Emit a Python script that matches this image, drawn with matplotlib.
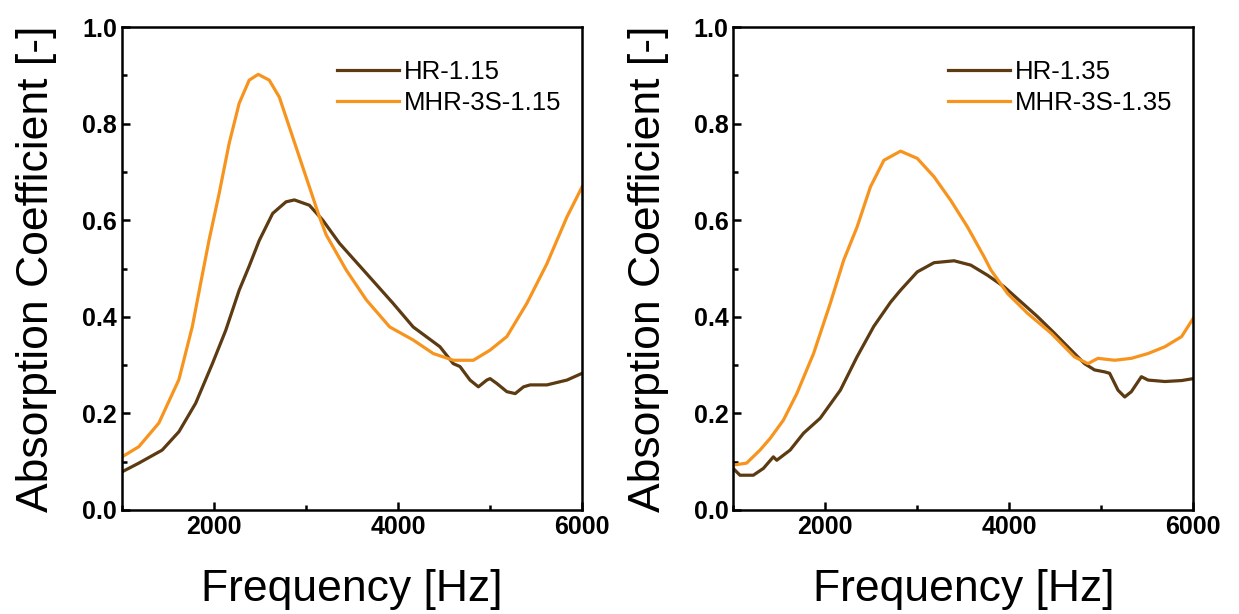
import matplotlib
matplotlib.use("Agg")
import matplotlib.pyplot as plt
from matplotlib.ticker import MultipleLocator

plt.rcParams['font.family'] = ['Liberation Sans', 'DejaVu Sans']

# --- data ---
f_mhr115 = [1000, 1182, 1400, 1618, 1764, 1855, 1946, 2055, 2164, 2273, 2382, 2480, 2600, 2709, 2818, 2927,
            3036, 3145, 3218, 3436, 3655, 3909, 4164, 4382, 4600, 4818, 5000, 5182, 5400, 5618, 5836, 6000]
a_mhr115 = [0.110, 0.131, 0.180, 0.270, 0.380, 0.470, 0.559, 0.655, 0.759, 0.842, 0.890, 0.902, 0.890, 0.855, 0.793, 0.731,
            0.669, 0.607, 0.570, 0.497, 0.435, 0.379, 0.352, 0.324, 0.310, 0.310, 0.331, 0.359, 0.428, 0.510, 0.607, 0.669]

f_hr115 = [1000, 1182, 1436, 1618, 1800, 1982, 2127, 2273, 2382, 2491, 2637, 2782, 2873, 3036, 3182, 3364,
           3655, 3945, 4164, 4455, 4600, 4673, 4782, 4873, 4964, 5000, 5073, 5182, 5273, 5364,
           5436, 5618, 5836, 6000]
a_hr115 = [0.079, 0.097, 0.124, 0.162, 0.221, 0.303, 0.372, 0.455, 0.505, 0.558, 0.614, 0.638, 0.642, 0.631, 0.600, 0.552,
           0.490, 0.428, 0.379, 0.338, 0.303, 0.297, 0.269, 0.255, 0.269, 0.272, 0.262, 0.245, 0.241, 0.255,
           0.259, 0.259, 0.269, 0.283]

f_mhr135 = [1000, 1145, 1291, 1400, 1545, 1691, 1873, 2055, 2200, 2346, 2491, 2637, 2818, 3000, 3182,
            3364, 3546, 3727, 3800, 3982, 4200, 4455, 4709, 4855, 4964, 5145, 5327, 5509, 5691, 5873, 6000]
a_mhr135 = [0.093, 0.097, 0.124, 0.148, 0.186, 0.241, 0.324, 0.428, 0.517, 0.586, 0.669, 0.724, 0.743, 0.728, 0.690,
            0.641, 0.586, 0.524, 0.497, 0.448, 0.407, 0.366, 0.317, 0.303, 0.314, 0.310, 0.314, 0.324, 0.338, 0.359, 0.397]

f_hr135 = [1000, 1073, 1218, 1327, 1436, 1473, 1618, 1764, 1945, 2164, 2345, 2527, 2709, 2818, 3000, 3182, 3400,
           3582, 3764, 3945, 4127, 4309, 4491, 4636, 4818, 4927, 5036, 5091, 5182, 5255, 5327,
           5436, 5509, 5691, 5873, 6000]
a_hr135 = [0.086, 0.072, 0.072, 0.086, 0.110, 0.103, 0.124, 0.159, 0.190, 0.248, 0.317, 0.380, 0.430, 0.455, 0.493, 0.512, 0.516,
           0.507, 0.486, 0.462, 0.431, 0.400, 0.366, 0.338, 0.303, 0.290, 0.286, 0.283, 0.248, 0.234, 0.245,
           0.276, 0.269, 0.266, 0.268, 0.272]

brown = '#5C3A12'
orange = '#F7941E'

fig = plt.figure(figsize=(12.39, 6.14), dpi=100)
ax1 = fig.add_axes([0.0985, 0.1694, 0.3713, 0.7866])
ax2 = fig.add_axes([0.5918, 0.1694, 0.3713, 0.7866])

panels = [
    (ax1, f_hr115, a_hr115, 'HR-1.15', f_mhr115, a_mhr115, 'MHR-3S-1.15'),
    (ax2, f_hr135, a_hr135, 'HR-1.35', f_mhr135, a_mhr135, 'MHR-3S-1.35'),
]

for ax, fx, ax_v, lab1, fm, am, lab2 in panels:
    ax.plot(fx, ax_v, color=brown, lw=2.3, label=lab1)
    ax.plot(fm, am, color=orange, lw=2.3, label=lab2)
    ax.set_xlim(1000, 6000)
    ax.set_ylim(0, 1.0)
    ax.xaxis.set_major_locator(MultipleLocator(2000))
    ax.xaxis.set_minor_locator(MultipleLocator(1000))
    ax.yaxis.set_major_locator(MultipleLocator(0.2))
    ax.yaxis.set_minor_locator(MultipleLocator(0.1))
    ax.tick_params(which='both', direction='in', labelsize=18, width=1.8)
    ax.tick_params(which='major', length=6)
    ax.tick_params(which='minor', length=3.5)
    for lbl in ax.get_xticklabels() + ax.get_yticklabels():
        lbl.set_fontweight('bold')
    for sp in ax.spines.values():
        sp.set_linewidth(1.8)
    ax.set_xlabel('Frequency [Hz]', fontsize=32, labelpad=22)
    ax.set_ylabel('Absorption Coefficient [-]', fontsize=32, labelpad=18)
    ax.legend(loc='upper right', bbox_to_anchor=(1.0, 0.975), frameon=False, fontsize=18.5,
              handlelength=2.4, handletextpad=0.2, labelspacing=0.3, borderaxespad=0.4)

fig.savefig('out.png', dpi=100)
